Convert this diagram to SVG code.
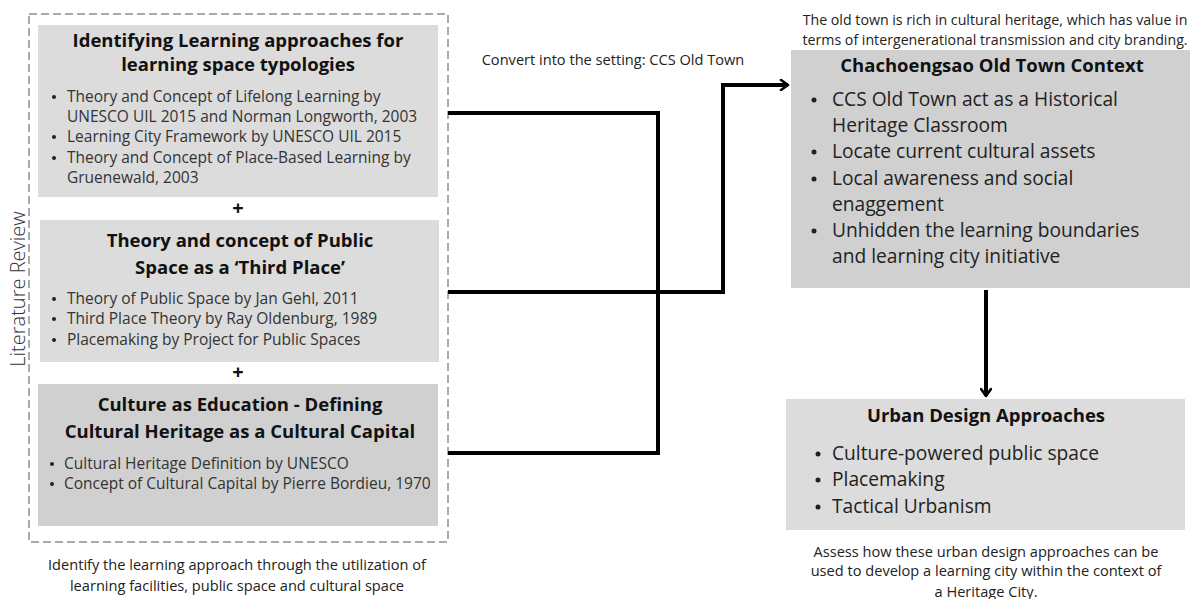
<svg xmlns="http://www.w3.org/2000/svg" width="1192" height="599" viewBox="0 0 1192 599">
<style>
text{font-family:"Open Sans","Noto Sans","Liberation Sans",sans-serif;}
.title{font-weight:bold;font-size:18.5px;fill:#111;text-anchor:middle;}
.item{font-size:15.5px;fill:#333;}
.big{font-size:19.2px;fill:#222;}
.cap{font-size:14.6px;fill:#222;text-anchor:middle;}
.plus{font-weight:bold;font-size:20px;fill:#111;text-anchor:middle;}
.conn{fill:none;stroke:#000;stroke-width:4;stroke-linejoin:miter;}
.b{fill:#222;}
</style>
<defs>
<marker id="arr" viewBox="0 0 12 12" refX="9" refY="6" markerWidth="12" markerHeight="12" markerUnits="userSpaceOnUse" orient="auto">
<path d="M2,1 L9,6 L2,11" fill="none" stroke="#000" stroke-width="2.6" stroke-linecap="round" stroke-linejoin="round"/>
</marker>
</defs>
<rect width="1192" height="599" fill="#fff"/>

<g id="literature-review">
<rect x="29" y="14" width="419" height="528" fill="none" stroke="#aaa" stroke-width="2" stroke-dasharray="8,4"/>
<text x="25" y="289" transform="rotate(-90 25 289)" text-anchor="middle" style="font-size:20px;font-weight:300;fill:#333">Literature Review</text>
</g>

<g id="node-learning">
<rect x="38" y="25" width="400" height="172" fill="#dcdcdc"/>
<text class="title" x="238" y="47">Identifying Learning approaches for</text>
<text class="title" x="238" y="71">learning space typologies</text>
<circle class="b" cx="54" cy="97" r="2"/><text class="item" x="67" y="102">Theory and Concept of Lifelong Learning by</text>
<text class="item" x="67" y="122">UNESCO UIL 2015 and Norman Longworth, 2003</text>
<circle class="b" cx="54" cy="137" r="2"/><text class="item" x="67" y="142">Learning City Framework by UNESCO UIL 2015</text>
<circle class="b" cx="54" cy="158" r="2"/><text class="item" x="67" y="163">Theory and Concept of Place-Based Learning by</text>
<text class="item" x="67" y="183">Gruenewald, 2003</text>
</g>
<text class="plus" x="238" y="215">+</text>

<g id="node-public">
<rect x="40" y="220" width="399" height="142" fill="#dcdcdc"/>
<text class="title" x="240" y="247">Theory and concept of Public</text>
<text class="title" x="240" y="274">Space as a ‘Third Place’</text>
<circle class="b" cx="54" cy="299" r="2"/><text class="item" x="67" y="304">Theory of Public Space by Jan Gehl, 2011</text>
<circle class="b" cx="54" cy="319" r="2"/><text class="item" x="67" y="324">Third Place Theory by Ray Oldenburg, 1989</text>
<circle class="b" cx="54" cy="340" r="2"/><text class="item" x="67" y="345">Placemaking by Project for Public Spaces</text>
</g>
<text class="plus" x="238" y="379">+</text>

<g id="node-culture">
<rect x="38" y="384" width="400" height="142" fill="#d0d0d0"/>
<text class="title" x="240" y="411">Culture as Education - Defining</text>
<text class="title" x="240" y="438">Cultural Heritage as a Cultural Capital</text>
<circle class="b" cx="52" cy="464" r="2"/><text class="item" x="64" y="469">Cultural Heritage Definition by UNESCO</text>
<circle class="b" cx="52" cy="484" r="2"/><text class="item" x="64" y="489">Concept of Cultural Capital by Pierre Bordieu, 1970</text>
</g>

<g id="caption-left">
<text class="cap" x="237" y="570">Identify the learning approach through the utilization of</text>
<text class="cap" x="237" y="591">learning facilities, public space and cultural space</text>
</g>

<g id="node-context">
<text class="cap" x="995" y="25" style="font-size:14.2px">The old town is rich in cultural heritage, which has value in</text>
<text class="cap" x="995" y="45" style="font-size:14.2px">terms of intergenerational transmission and city branding.</text>
<rect x="791" y="50" width="399" height="238" fill="#d0d0d0"/>
<text class="title" x="992" y="72">Chachoengsao Old Town Context</text>
<circle class="b" cx="814" cy="100" r="2.5"/><text class="big" x="832" y="106">CCS Old Town act as a Historical</text>
<text class="big" x="832" y="132">Heritage Classroom</text>
<circle class="b" cx="814" cy="152" r="2.5"/><text class="big" x="832" y="158">Locate current cultural assets</text>
<circle class="b" cx="814" cy="179" r="2.5"/><text class="big" x="832" y="185">Local awareness and social</text>
<text class="big" x="832" y="211">enaggement</text>
<circle class="b" cx="814" cy="231" r="2.5"/><text class="big" x="832" y="237">Unhidden the learning boundaries</text>
<text class="big" x="832" y="263">and learning city initiative</text>
</g>

<g id="node-urban">
<rect x="786" y="399" width="399" height="131" fill="#dcdcdc"/>
<text class="title" x="986" y="422">Urban Design Approaches</text>
<circle class="b" cx="818" cy="454" r="2.5"/><text class="big" x="832" y="460">Culture-powered public space</text>
<circle class="b" cx="818" cy="480" r="2.5"/><text class="big" x="832" y="486">Placemaking</text>
<circle class="b" cx="818" cy="507" r="2.5"/><text class="big" x="832" y="513">Tactical Urbanism</text>
<text class="cap" x="986" y="557">Assess how these urban design approaches can be</text>
<text class="cap" x="986" y="576">used to develop a learning city within the context of</text>
<text class="cap" x="986" y="597">a Heritage City.</text>
</g>

<g id="connectors">
<text class="cap" x="613" y="65">Convert into the setting: CCS Old Town</text>
<path class="conn" d="M448,113 H658 V453 H448"/>
<path class="conn" d="M448,292 H723 V85 H788" marker-end="url(#arr)"/>
<path class="conn" d="M986,290 V396" marker-end="url(#arr)"/>
</g>
</svg>
